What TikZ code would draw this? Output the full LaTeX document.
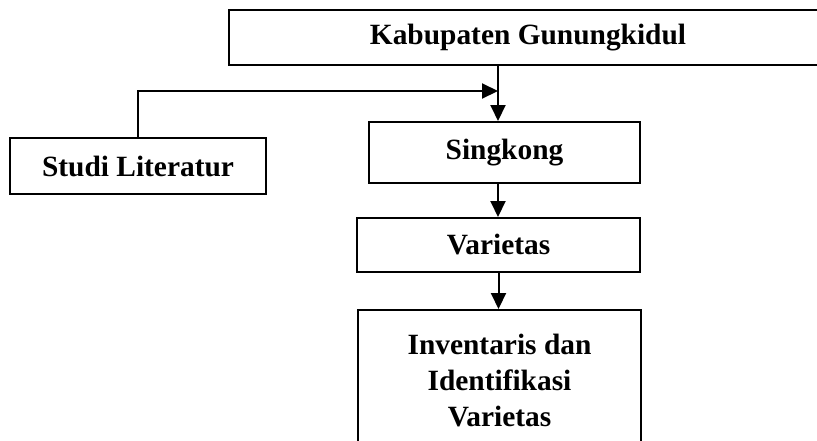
\documentclass[tikz,border=0pt]{standalone}
\usepackage{fontspec}
\setmainfont{Liberation Serif}
\usetikzlibrary{arrows, arrows.meta}

\tikzset{
  boxnode/.style={draw, line width=1pt, inner sep=0pt, align=center,
    font=\fontsize{14.7}{18}\selectfont\bfseries},
  flowarr/.style={line width=1pt, -{Triangle[length=8pt,width=7.5pt]}}
}

\begin{document}
\begin{tikzpicture}[x=0.5pt,y=-0.5pt]
\useasboundingbox (0,0) rectangle (817,440);
%boxes
\node[boxnode, minimum width=299pt, minimum height=27.5pt] (kab) at (528,37.5) {Kabupaten Gunungkidul};
\node[boxnode, minimum width=128pt, minimum height=28pt] (studi) at (138,166) {Studi Literatur};
\node[boxnode, minimum width=135.5pt, minimum height=30.5pt] (sing) at (504.5,152.5) {Singkong};
\node[boxnode, minimum width=141.5pt, minimum height=27pt] (var) at (498.5,245) {Varietas};
\node[boxnode, minimum width=141.5pt, minimum height=71pt] (inv) at (499.5,381) {Inventaris dan\\Identifikasi\\Varietas};
%junction
\coordinate (jn) at (498,91);
%arrows
\draw[flowarr] (kab.south -| jn) -- (sing.north -| jn);
\draw[flowarr] (studi.north) -- (studi.north |- jn) -- (jn);
\draw[flowarr] (sing.south -| jn) -- (var.north -| jn);
\draw[flowarr] (var.south) -- (var.south |- inv.north);
\end{tikzpicture}
\end{document}
